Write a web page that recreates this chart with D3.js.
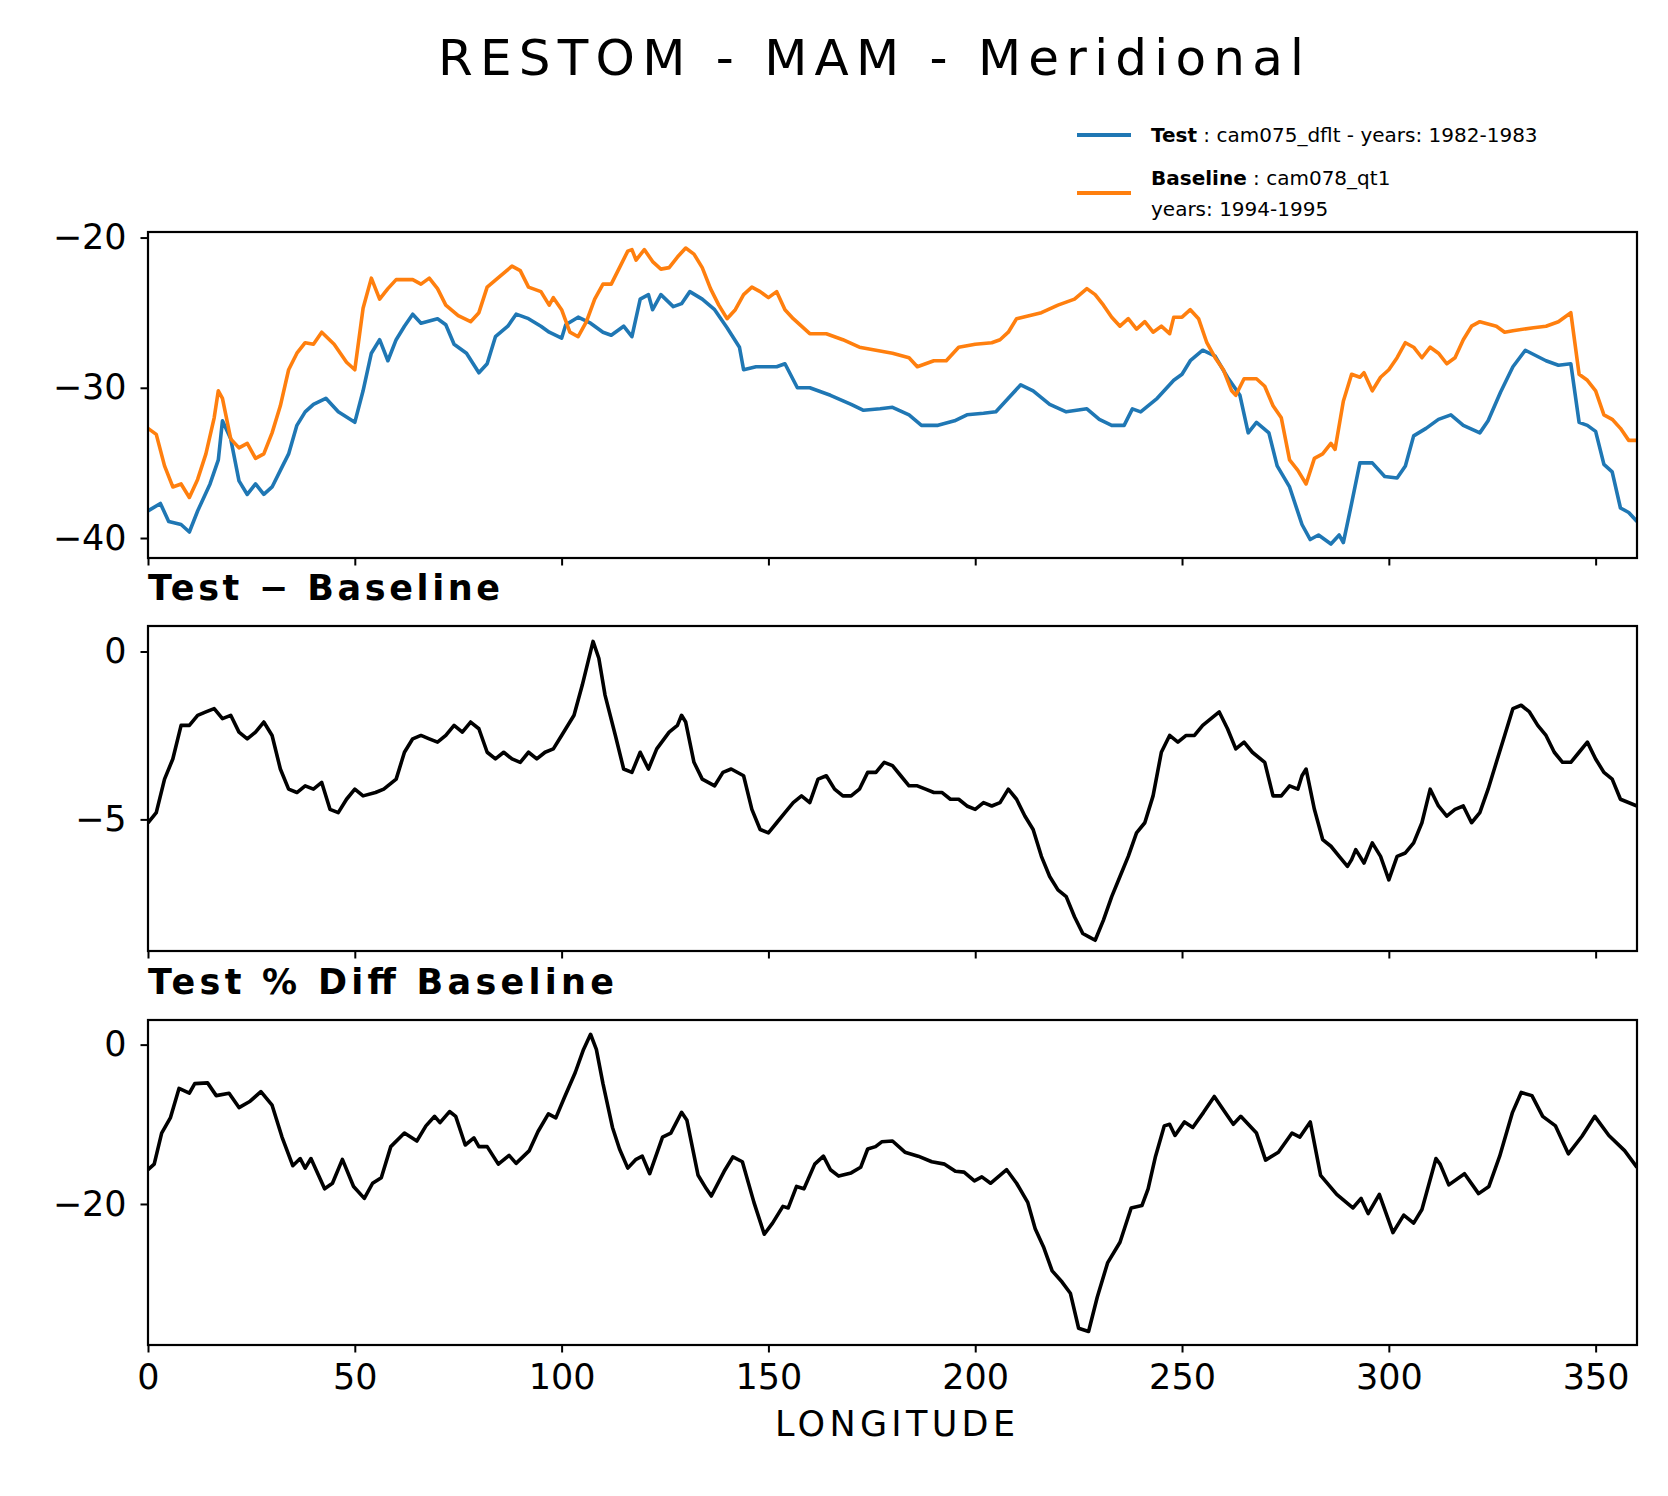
<!DOCTYPE html>
<html>
<head>
<meta charset="utf-8">
<script src="https://cdn.jsdelivr.net/npm/d3@7"></script>
<style>
  body { margin: 0; background: #fff; }
  svg, svg text { font-family: "DejaVu Sans", sans-serif; }
</style>
</head>
<body>
<svg width="1668" height="1496"></svg>
<script>
// values

const testLon = [0,3,5,8,10,12,15,17,18,20,22,24,26,28,30,32,34,36,38,40,43,46,50,52,54,56,58,60,62,64,66,70,72,74,77,80,82,84,87,89,92,95,97,100,101,104,107,110,112,115,117,119,121,122,124,127,129,131,134,137,140,143,144,147,150,152,154,157,160,165,170,173,177,180,184,187,191,195,198,202,205,208,211,214,218,222,227,230,233,236,238,240,244,248,250,252,255,258,261,264,266,268,271,273,276,279,281,283,286,288,289,291,293,296,299,302,304,306,309,312,315,318,322,324,327,330,333,338,341,344,346,348,350,352,354,356,358,360];
const testVal = [-38.2,-37.7,-38.9,-39.1,-39.6,-38.2,-36.4,-34.8,-32.2,-33.4,-36.2,-37.1,-36.4,-37.1,-36.6,-35.5,-34.4,-32.5,-31.6,-31.1,-30.7,-31.6,-32.3,-30.2,-27.7,-26.8,-28.2,-26.8,-25.9,-25.1,-25.7,-25.4,-25.8,-27.1,-27.7,-29.0,-28.4,-26.6,-25.9,-25.1,-25.4,-25.9,-26.3,-26.7,-25.8,-25.3,-25.7,-26.3,-26.5,-25.9,-26.6,-24.1,-23.8,-24.8,-23.8,-24.6,-24.4,-23.6,-24.1,-24.8,-26.0,-27.3,-28.8,-28.6,-28.6,-28.6,-28.4,-30.0,-30.0,-30.5,-31.1,-31.5,-31.4,-31.3,-31.8,-32.5,-32.5,-32.2,-31.8,-31.7,-31.6,-30.7,-29.8,-30.2,-31.1,-31.6,-31.4,-32.1,-32.5,-32.5,-31.4,-31.6,-30.7,-29.5,-29.1,-28.2,-27.5,-27.9,-29.3,-30.5,-33.0,-32.3,-33.0,-35.2,-36.6,-39.1,-40.1,-39.8,-40.4,-39.8,-40.3,-37.7,-35.0,-35.0,-35.9,-36.0,-35.2,-33.2,-32.7,-32.1,-31.8,-32.5,-33.0,-32.2,-30.3,-28.6,-27.5,-28.2,-28.5,-28.4,-32.3,-32.5,-32.9,-35.1,-35.6,-38.0,-38.3,-38.9];

const baseLon = [0,2,4,6,8,10,12,14,16,17,18,20,22,24,26,28,30,32,34,36,38,40,42,45,48,50,52,54,56,58,60,62,64,66,68,70,72,75,78,80,82,85,88,90,92,95,97,98,100,102,104,106,108,110,112,114,116,117,118,120,122,124,126,128,130,132,134,136,138,140,142,144,146,148,150,152,154,156,158,160,164,168,172,176,180,184,186,190,193,196,200,204,206,208,210,213,216,220,224,227,229,231,233,235,237,239,241,243,245,247,248,250,252,254,256,258,260,262,263,265,268,270,272,274,276,278,280,282,284,286,287,289,291,293,294,296,298,300,302,304,306,308,310,312,314,316,318,320,322,326,328,330,335,338,341,344,346,348,350,352,354,356,358,360];
const baseVal = [-32.7,-33.1,-35.2,-36.6,-36.4,-37.3,-36.1,-34.4,-32.0,-30.2,-30.7,-33.4,-34.0,-33.7,-34.7,-34.4,-33.0,-31.2,-28.8,-27.7,-27.0,-27.1,-26.3,-27.1,-28.3,-28.8,-24.7,-22.7,-24.1,-23.4,-22.8,-22.8,-22.8,-23.1,-22.7,-23.4,-24.5,-25.2,-25.6,-25.0,-23.3,-22.6,-21.9,-22.2,-23.3,-23.6,-24.5,-24.0,-24.8,-26.3,-26.6,-25.6,-24.1,-23.1,-23.1,-22.0,-20.9,-20.8,-21.5,-20.8,-21.6,-22.1,-22.0,-21.3,-20.7,-21.1,-22.0,-23.4,-24.5,-25.4,-24.8,-23.8,-23.3,-23.6,-24.0,-23.6,-24.8,-25.4,-25.9,-26.4,-26.4,-26.8,-27.3,-27.5,-27.7,-28.0,-28.6,-28.2,-28.2,-27.3,-27.1,-27.0,-26.8,-26.3,-25.4,-25.2,-25.0,-24.5,-24.1,-23.4,-23.8,-24.5,-25.3,-25.9,-25.4,-26.1,-25.6,-26.3,-25.9,-26.4,-25.3,-25.3,-24.8,-25.4,-27.0,-28.0,-28.8,-30.2,-30.5,-29.4,-29.4,-29.9,-31.2,-32.0,-34.8,-35.5,-36.4,-34.7,-34.4,-33.7,-34.1,-30.9,-29.1,-29.3,-29.0,-30.2,-29.3,-28.8,-28.0,-27.0,-27.3,-28.0,-27.3,-27.7,-28.4,-28.0,-26.8,-25.9,-25.6,-25.9,-26.3,-26.2,-26.0,-25.9,-25.6,-25.0,-29.1,-29.5,-30.2,-31.8,-32.1,-32.7,-33.5,-33.5];

const diffLon = [0,2,4,6,8,10,12,14,16,18,20,22,24,26,28,30,32,34,36,38,40,42,44,46,48,50,52,55,57,60,62,64,66,68,70,72,74,76,78,80,82,84,86,88,90,92,94,96,98,100,103,105,107.6,109,110.5,113,115,117,119,121,123,126,128,129,130,132,134,137,139,141,144,146,148,150,152,154,156,158,160,162,164,166,168,170,172,174,176,178,180,182,184,186,188,190,192,194,196,198,200,202,204,206,208,210,212,214,216,218,220,222,224,226,227.5,229,231,233,235,237,239,241,243,245,247,249,251,253,255,257,259,261,263,265,267,270,272,274,276,278,279,280,282,284,286,288,290,291,292,294,296,298,300,302,304,306,308,310,312,314,316,318,320,322,324,326,328,330,332,334,336,338,340,342,344,346,348,350,352,354,356,360];
const diffVal = [-5.1,-4.8,-3.8,-3.2,-2.2,-2.2,-1.9,-1.8,-1.7,-2.0,-1.9,-2.4,-2.6,-2.4,-2.1,-2.5,-3.5,-4.1,-4.2,-4.0,-4.1,-3.9,-4.7,-4.8,-4.4,-4.1,-4.3,-4.2,-4.1,-3.8,-3.0,-2.6,-2.5,-2.6,-2.7,-2.5,-2.2,-2.4,-2.1,-2.3,-3.0,-3.2,-3.0,-3.2,-3.3,-3.0,-3.2,-3.0,-2.9,-2.5,-1.9,-1.0,0.3,-0.2,-1.3,-2.5,-3.5,-3.6,-3.0,-3.5,-2.9,-2.4,-2.2,-1.9,-2.1,-3.3,-3.8,-4.0,-3.6,-3.5,-3.7,-4.7,-5.3,-5.4,-5.1,-4.8,-4.5,-4.3,-4.5,-3.8,-3.7,-4.1,-4.3,-4.3,-4.1,-3.6,-3.6,-3.3,-3.4,-3.7,-4.0,-4.0,-4.1,-4.2,-4.2,-4.4,-4.4,-4.6,-4.7,-4.5,-4.6,-4.5,-4.1,-4.4,-4.9,-5.3,-6.1,-6.7,-7.1,-7.3,-7.9,-8.4,-8.5,-8.6,-8.0,-7.3,-6.7,-6.1,-5.4,-5.1,-4.3,-3.0,-2.5,-2.7,-2.5,-2.5,-2.2,-2.0,-1.8,-2.3,-2.9,-2.7,-3.0,-3.3,-4.3,-4.3,-4.0,-4.1,-3.7,-3.5,-4.7,-5.6,-5.8,-6.1,-6.4,-6.2,-5.9,-6.3,-5.7,-6.1,-6.8,-6.1,-6.0,-5.7,-5.1,-4.1,-4.6,-4.9,-4.7,-4.6,-5.1,-4.8,-4.1,-3.3,-2.5,-1.7,-1.6,-1.8,-2.2,-2.5,-3.0,-3.3,-3.3,-3.0,-2.7,-3.2,-3.6,-3.8,-4.4,-4.6,-4.5,-5.1];

const pctLon = [0,1.5,3.3,5.4,7.5,10,11.3,14.4,16.5,19.6,22,24.7,27.3,30,32.4,35,36.8,38,39.4,42.7,44.6,47,49.7,52.3,54.3,56.4,58.7,62,65,67.2,69.3,70.6,72.9,74.4,76.7,78.8,80,82,84.7,87.3,89,92.2,94.3,96.8,98.6,100.7,103.3,105.3,107,108.4,110,112.3,114,116,118,119.5,121.3,124.4,126.4,129,130.3,133,135,136.2,139.3,141.4,143.7,146.5,149,151,153.5,154.8,156.8,158.6,161.2,163.3,165,167,170,172.3,174,175.9,177.4,180,183,186.2,189.5,192.6,195.2,197.3,199.8,201.6,203.7,207.6,210,212.7,214.5,216.6,218.6,221,223,225,227.4,229.5,232,235,237.7,240.3,241.8,243.6,245.7,247,248.3,250.6,252.6,255.2,257.8,260.4,262.4,264.2,268,270.2,273.3,276.6,278.5,281,283.5,287.4,291.3,293.3,295,297.7,301,303.6,306,308,311.4,312.4,314.5,318.3,321.7,324.2,326.8,329.9,332,334.6,337.2,340.3,343.4,346.7,349.8,353.2,357,360];
const pctVal = [-15.7,-15.0,-11.1,-9.2,-5.5,-6.1,-4.9,-4.8,-6.4,-6.1,-7.9,-7.1,-5.9,-7.6,-11.6,-15.2,-14.3,-15.5,-14.3,-18.1,-17.4,-14.4,-17.8,-19.3,-17.4,-16.7,-12.8,-11.1,-12.1,-10.2,-9.0,-9.8,-8.4,-9.0,-12.6,-11.7,-12.8,-12.8,-15.0,-13.9,-14.9,-13.3,-10.9,-8.7,-9.2,-6.6,-3.5,-0.6,1.3,-0.6,-4.9,-10.4,-13.1,-15.5,-14.4,-14.0,-16.2,-11.6,-11.1,-8.5,-9.5,-16.4,-18.1,-19.0,-15.9,-14.1,-14.7,-19.8,-23.8,-22.4,-20.3,-20.5,-17.8,-18.1,-15.0,-14.0,-15.7,-16.5,-16.1,-15.4,-13.1,-12.8,-12.2,-12.1,-13.5,-14.0,-14.7,-15.0,-15.9,-16.0,-17.1,-16.6,-17.4,-15.7,-17.4,-19.8,-23.1,-25.5,-28.4,-29.8,-31.2,-35.6,-36.0,-31.7,-27.4,-24.8,-20.5,-20.2,-18.1,-14.0,-10.2,-10.0,-11.4,-9.7,-10.4,-8.5,-6.5,-8.5,-10.0,-9.0,-11.1,-14.5,-13.5,-11.1,-11.6,-9.7,-16.4,-18.8,-20.5,-19.3,-21.2,-18.8,-23.6,-21.4,-22.4,-20.7,-14.3,-15.0,-17.6,-16.2,-18.7,-17.8,-14.0,-8.5,-6.0,-6.4,-9.0,-10.2,-13.7,-11.5,-9.0,-11.4,-13.3,-15.4];

const xTicks = [0, 50, 100, 150, 200, 250, 300, 350];

const svg = d3.select("svg");
const left = 148, right = 1637;

const x = d3.scaleLinear().domain([0, 360]).range([left, right]);

const panels = [
    { top: 232, bottom: 558, domain: [-41.33, -19.63], ticks: [-20, -30, -40],
      series: [[testLon, testVal, "#1f77b4"], [baseLon, baseVal, "#ff7f0e"]] },
    { top: 626, bottom: 951, domain: [-8.92, 0.76], ticks: [0, -5], title: "Test \u2212 Baseline",
      series: [[diffLon, diffVal, "#000"]] },
    { top: 1020, bottom: 1345, domain: [-37.7, 3.09], ticks: [0, -20], title: "Test % Diff Baseline",
      series: [[pctLon, pctVal, "#000"]] }
];

panels.forEach((p, i) => {
    const y = d3.scaleLinear().domain(p.domain).range([p.bottom, p.top]);
    const g = svg.append("g");

    const clipId = "clip" + i;
    svg.append("clipPath").attr("id", clipId)
        .append("rect").attr("x", left).attr("y", p.top)
        .attr("width", right - left).attr("height", p.bottom - p.top);

    const line = d3.line().x((d) => x(d[0])).y((d) => y(d[1]));
    p.series.forEach(([lons, vals, col]) => {
        g.append("path")
            .datum(lons.map((l, k) => [l, vals[k]]))
            .attr("clip-path", `url(#${clipId})`)
            .attr("fill", "none")
            .attr("stroke", col)
            .attr("stroke-width", 3.6)
            .attr("stroke-linejoin", "round")
            .attr("d", line);
    });

    const yAxis = g.append("g")
        .attr("transform", `translate(${left},0)`)
        .call(d3.axisLeft(y).tickValues(p.ticks).tickSize(7.5).tickPadding(14)
            .tickFormat((d) => d < 0 ? "\u2212" + Math.abs(d) : d));
    const xAxis = g.append("g")
        .attr("transform", `translate(0,${p.bottom})`)
        .call(d3.axisBottom(x).tickValues(xTicks).tickSize(7.5).tickPadding(12)
            .tickFormat(i === 2 ? d3.format("d") : () => ""));
    [yAxis, xAxis].forEach((a) => {
        a.attr("font-family", "DejaVu Sans");
        a.select(".domain").remove();
        a.selectAll("line").attr("stroke", "#000").attr("stroke-width", 2);
        a.selectAll("text").attr("fill", "#000").style("font-size", "35px");
    });

    g.append("rect")
        .attr("x", left).attr("y", p.top)
        .attr("width", right - left).attr("height", p.bottom - p.top)
        .attr("fill", "none").attr("stroke", "#000").attr("stroke-width", 2.2);

    if (p.title) {
        g.append("text")
            .attr("x", left).attr("y", p.top - 26)
            .style("font-size", "35px").style("font-weight", "bold")
            .attr("textLength", i === 1 ? 352 : 466)
            .text(p.title);
    }
});

// title and x label
svg.append("text")
    .attr("x", 871).attr("y", 75)
    .attr("text-anchor", "middle")
    .style("font-size", "50px")
    .attr("textLength", 866)
    .text("RESTOM - MAM - Meridional");

svg.append("text")
    .attr("x", 895).attr("y", 1436)
    .attr("text-anchor", "middle")
    .style("font-size", "35px")
    .attr("textLength", 240)
    .text("LONGITUDE");

// legend
const legend = svg.append("g").style("font-size", "20px");
const legendRows = [
    { y: 135, color: "#1f77b4", bold: "Test", rest: " : cam075_dflt - years: 1982-1983" },
    { y: 193, color: "#ff7f0e", bold: "Baseline", rest: " : cam078_qt1", extra: "years: 1994-1995" }
];
legendRows.forEach((r) => {
    legend.append("line")
        .attr("x1", 1077).attr("x2", 1131)
        .attr("y1", r.y).attr("y2", r.y)
        .attr("stroke", r.color).attr("stroke-width", 4);
    const ty = r.extra ? r.y - 8 : r.y + 7;
    const t = legend.append("text").attr("x", 1151).attr("y", ty);
    t.append("tspan").style("font-weight", "bold").text(r.bold);
    t.append("tspan").text(r.rest);
    if (r.extra) {
        legend.append("text").attr("x", 1151).attr("y", ty + 31).text(r.extra);
    }
});
</script>
</body>
</html>
